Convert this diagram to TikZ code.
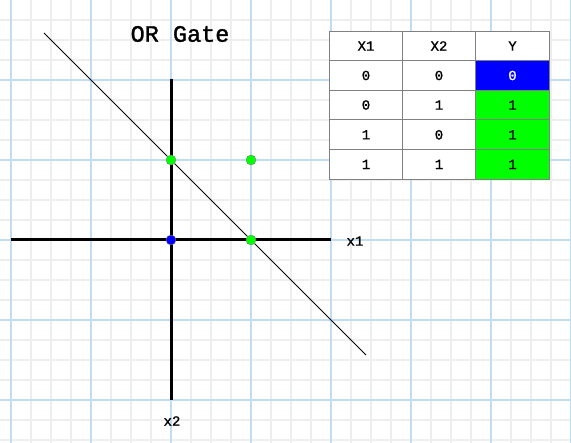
\documentclass[tikz,border=0pt]{standalone}
\usepackage{fontspec}
\setmonofont{Liberation Mono}
\newfontfamily\medmono[FakeBold=1.2]{Liberation Mono}
\newfontfamily\titlemono[FakeBold=1.3]{Liberation Mono}
\definecolor{gridmajor}{RGB}{192,222,243}
\definecolor{gridminor}{RGB}{238,238,238}
\begin{document}
\begin{tikzpicture}[x=1pt,y=-1pt,
  minor/.style={draw=gridminor,line width=1.1pt},
  major/.style={draw=gridmajor,line width=1.3pt},
  axis/.style={line width=3pt,black},
  pt/.style={circle,inner sep=0pt,minimum size=10pt,draw=black!50,line width=0.4pt},
  cell/.style={draw=black!50,line width=1pt,minimum width=73pt,minimum height=29.6pt,inner sep=0pt,font=\medmono\fontsize{14}{14}\selectfont},
  lbl/.style={font=\medmono\fontsize{14}{14}\selectfont}]
\useasboundingbox (0,0) rectangle (571,443);
\fill[white] (0,0) rectangle (571,443);
% grid
\foreach \x in {31,51,...,571} \draw[minor] (\x,0) -- (\x,443);
\foreach \y in {20,40,...,440} \draw[minor] (0,\y) -- (571,\y);
\foreach \x in {11,91,...,571} \draw[major] (\x,0) -- (\x,443);
\foreach \y in {80,160,...,400} \draw[major] (0,\y) -- (571,\y);
% title
\node[font=\titlemono\fontsize{23.5}{23.5}\selectfont] (title) at (180,34) {OR Gate};
% axes
\coordinate (xl) at (11,240);
\coordinate (xr) at (331,240);
\coordinate (yt) at (171,79);
\coordinate (yb) at (171,400);
\draw[axis] (xl) -- (xr);
\draw[axis] (yt) -- (yb);
\node[lbl] (lx1) at (355,241) {x1};
\node[lbl] (lx2) at (172,421) {x2};
% decision line
\coordinate (la) at (44,33);
\coordinate (lb) at (366,355);
\draw[black,line width=0.8pt] (la) -- (lb);
% points
\node[pt,fill=blue] (p00) at (171,240) {};
\node[pt,fill=green] (p01) at (171,160) {};
\node[pt,fill=green] (p11) at (251,160) {};
\node[pt,fill=green] (p10) at (251,240) {};
% table
\node[cell,fill=white] (h1) at (366,46) {X1};
\node[cell,fill=white] (h2) at (439,46) {X2};
\node[cell,fill=white,minimum width=74pt] (h3) at (512.5,46) {Y};
\node[cell,fill=white] (a1) at (366,75.5) {0};
\node[cell,fill=white] (a2) at (439,75.5) {0};
\node[cell,fill=blue,text=white,minimum width=74pt] (a3) at (512.5,75.5) {0};
\node[cell,fill=white] (b1) at (366,105) {0};
\node[cell,fill=white] (b2) at (439,105) {1};
\node[cell,fill=green,minimum width=74pt] (b3) at (512.5,105) {1};
\node[cell,fill=white] (c1) at (366,134.8) {1};
\node[cell,fill=white] (c2) at (439,134.8) {0};
\node[cell,fill=green,minimum width=74pt] (c3) at (512.5,134.8) {1};
\node[cell,fill=white] (d1) at (366,164.4) {1};
\node[cell,fill=white] (d2) at (439,164.4) {1};
\node[cell,fill=green,minimum width=74pt] (d3) at (512.5,164.4) {1};
\end{tikzpicture}
\end{document}
